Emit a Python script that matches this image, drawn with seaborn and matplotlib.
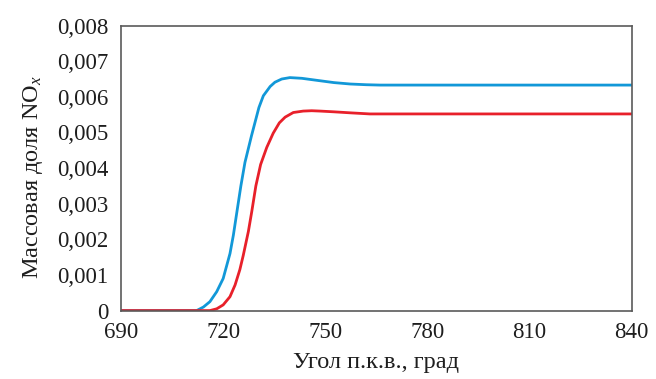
import matplotlib
matplotlib.use("Agg")
import matplotlib.pyplot as plt
import seaborn as sns
import pandas as pd
from matplotlib.ticker import FixedLocator, FixedFormatter

# Crank angle (deg) and NOx mass fraction for two cases
angle_blue = [690, 705, 712.2, 714.2, 716.1, 718.1, 720.0, 721.0, 722.0, 723.0, 724.0,
              725.2, 726.4, 728.3, 729.4, 730.5, 731.8, 733.8, 735.2, 737.2, 739.6,
              743.1, 747.0, 752.5, 757.3, 762.0, 766.1, 780, 800, 820, 840]
nox_blue = [0.0, 0.0, 0.0, 0.0001, 0.00025, 0.00053, 0.0009, 0.00125, 0.0016, 0.00212,
            0.00275, 0.0035, 0.00416, 0.0049, 0.0053, 0.0057, 0.00603, 0.00629, 0.00641,
            0.0065, 0.00654, 0.00652, 0.00647, 0.0064, 0.00636, 0.00634, 0.00633,
            0.00633, 0.00633, 0.00633, 0.00633]

angle_red = [690, 705, 716.1, 718.1, 720.0, 722.0, 723.5, 724.9, 725.9, 727.4, 728.4,
             729.6, 731.0, 732.8, 734.7, 736.5, 738.2, 740.6, 743.5, 746.0, 748.5,
             752.4, 757.5, 763.1, 780, 800, 820, 840]
nox_red = [0.0, 0.0, 0.0, 0.00005, 0.00016, 0.00039, 0.00072, 0.00115, 0.00155, 0.00222,
           0.00278, 0.0035, 0.0041, 0.00458, 0.00498, 0.00527, 0.00543, 0.00556, 0.0056,
           0.00561, 0.0056, 0.00558, 0.00555, 0.00552, 0.00552, 0.00552, 0.00552, 0.00552]

x_ticks = [690, 720, 750, 780, 810, 840]
y_ticks = [0, 0.001, 0.002, 0.003, 0.004, 0.005, 0.006, 0.007, 0.008]
y_tick_labels = ["0", "0,001", "0,002", "0,003", "0,004", "0,005", "0,006", "0,007", "0,008"]

df = pd.concat([
    pd.DataFrame({"angle": angle_blue, "nox": nox_blue, "case": "a"}),
    pd.DataFrame({"angle": angle_red, "nox": nox_red, "case": "b"}),
])

sns.set_theme(style="white")
plt.rcParams["font.family"] = ["Liberation Serif", "DejaVu Serif"]
plt.rcParams["mathtext.fontset"] = "custom"
plt.rcParams["mathtext.rm"] = "Liberation Serif"
plt.rcParams["mathtext.it"] = "Liberation Serif:italic"

fig = plt.figure(figsize=(6.56, 3.79), dpi=100)
ax = fig.add_axes([0.1845, 0.1805, 0.7785, 0.752])

sns.lineplot(data=df, x="angle", y="nox", hue="case",
             palette={"a": "#1298d8", "b": "#e8202a"},
             linewidth=2.0, legend=False, ax=ax, estimator=None, sort=False)
for ln in ax.lines:
    ln.set_solid_joinstyle("round")
    ln.set_solid_capstyle("round")

ax.set_xlim(690, 840)
ax.set_ylim(0, 0.008)
ax.xaxis.set_major_locator(FixedLocator(x_ticks))
ax.yaxis.set_major_locator(FixedLocator(y_ticks))
ax.yaxis.set_major_formatter(FixedFormatter(y_tick_labels))

for s in ax.spines.values():
    s.set_color("#5a5a5a")
    s.set_linewidth(1.2)

ax.tick_params(axis="both", direction="in", length=5, width=1.0, color="#333333",
               labelsize=16.5, labelcolor="#1e1e1e")
ax.tick_params(axis="y", pad=9)
ax.tick_params(axis="x", pad=8)

ax.set_xlabel("Угол п.к.в., град", fontsize=17.5, color="#1e1e1e", labelpad=7)
ax.set_ylabel("Массовая доля NO$_x$", fontsize=17.5, color="#1e1e1e", labelpad=8)
ax.yaxis.set_label_coords(-0.148, 0.47)

fig.savefig("out.png", dpi=100)
